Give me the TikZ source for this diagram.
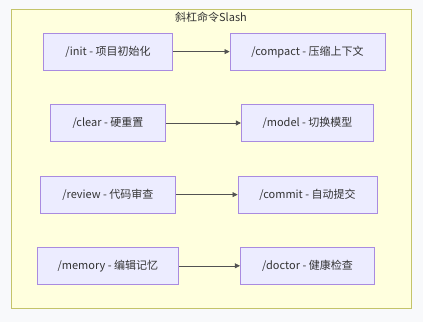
\documentclass[tikz,border=0pt]{standalone}
\usepackage{fontspec}
\setmainfont{Noto Sans CJK SC}
\usetikzlibrary{arrows.meta}
\definecolor{bgc}{HTML}{F8F9FB}
\definecolor{clfill}{HTML}{FFFFDE}
\definecolor{cldraw}{HTML}{C4C46A}
\definecolor{nfill}{HTML}{ECECFF}
\definecolor{ndraw}{HTML}{A98BE0}
\definecolor{txt}{HTML}{333333}
\tikzset{
  cmd/.style={draw=ndraw, fill=nfill, line width=0.9pt, text=txt, font=\fontsize{11}{13}\selectfont, inner sep=0pt},
  link/.style={draw=txt!85, line width=0.6pt, -{Triangle[length=5pt,width=5pt]}},
}
\begin{document}
\begin{tikzpicture}[x=1pt,y=-1pt]
\path[fill=bgc] (0,0) rectangle (423,322);
\useasboundingbox (0,0) rectangle (423,322);
\draw[draw=cldraw, fill=clfill, line width=0.9pt] (11,9) rectangle (411,308.5);
\node[text=txt, font=\fontsize{11}{13}\selectfont] (title) at (211,17.5) {斜杠命令Slash};
\node[cmd, minimum width=129.5pt, minimum height=37pt] (init) at (107.9,51.6) {/init - 项目初始化};
\node[cmd, minimum width=155pt, minimum height=37pt] (compact) at (307.5,51.6) {/compact - 压缩上下文};
\node[cmd, minimum width=115.5pt, minimum height=37pt] (clear) at (107.9,123) {/clear - 硬重置};
\node[cmd, minimum width=132.3pt, minimum height=37pt] (model) at (307.5,123) {/model - 切换模型};
\node[cmd, minimum width=135pt, minimum height=37pt] (review) at (107.9,194.6) {/review - 代码审查};
\node[cmd, minimum width=139pt, minimum height=37pt] (commit) at (307.5,194.6) {/commit - 自动提交};
\node[cmd, minimum width=141.6pt, minimum height=37pt] (memory) at (107.9,265.8) {/memory - 编辑记忆};
\node[cmd, minimum width=134.3pt, minimum height=37pt] (doctor) at (307.5,265.8) {/doctor - 健康检查};
\draw[link] (init) -- (compact);
\draw[link] (clear) -- (model);
\draw[link] (review) -- (commit);
\draw[link] (memory) -- (doctor);
\end{tikzpicture}
\end{document}
